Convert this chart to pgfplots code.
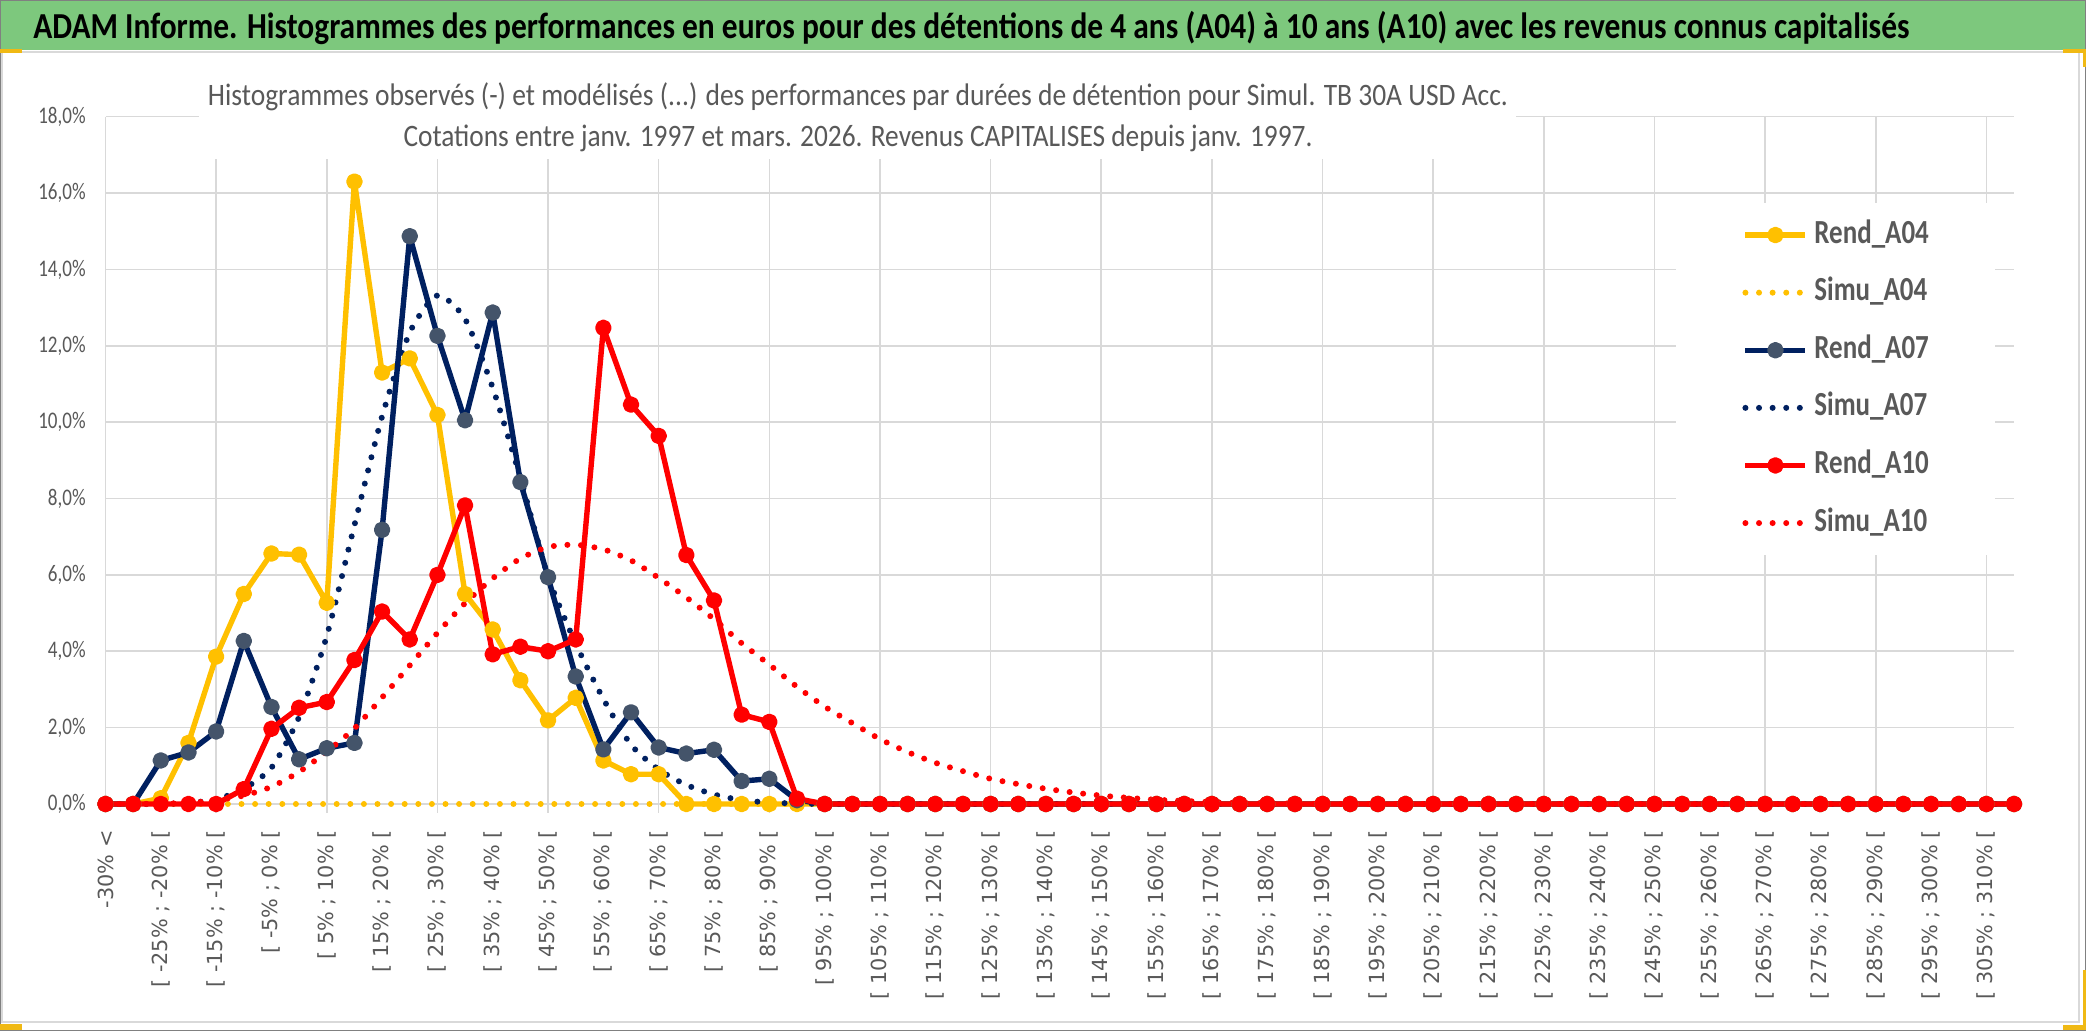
\documentclass[border=0pt]{standalone}
\usepackage{pgfplots}
\usepackage{pgfplotstable}
\usepackage{fontspec}
\pgfplotsset{compat=1.18}
\setmainfont{Carlito}
\newfontfamily\cond{Carlito}[FakeStretch=0.8]
\newfontfamily\dejavu{DejaVu Sans}

\definecolor{titlegreen}{RGB}{125,200,125}
\definecolor{gold}{RGB}{255,192,0}
\definecolor{navy}{RGB}{0,32,96}
\definecolor{slate}{RGB}{68,84,106}
\definecolor{gridgray}{RGB}{217,217,217}
\definecolor{txtgray}{RGB}{89,89,89}
\definecolor{framegray}{RGB}{128,128,128}
\definecolor{handle}{RGB}{240,185,20}

% idx: 0 = "-30% <", 1 = "[ -30% ; -25% [", 2 = "[ -25% ; -20% [", ...  (values in %)
\pgfplotstableread{
idx rA04  sA04 rA07  sA07  rA10  sA10
0   0     0    0     0     0     0
1   0     0    0     0     0     0
2   0.15  0    1.14  0     0     0.01
3   1.60  0    1.35  0.03  0     0.03
4   3.86  0    1.90  0.12  0     0.10
5   5.50  0    4.27  0.40  0.39  0.22
6   6.56  0    2.54  0.95  1.97  0.45
7   6.53  0    1.17  2.28  2.52  0.84
8   5.27  0    1.46  4.40  2.67  1.37
9   16.30 0    1.60  7.30  3.77  1.98
10  11.30 0    7.18  10.15 5.04  2.79
11  11.67 0    14.87 12.35 4.31  3.63
12  10.19 0    12.26 13.32 6.00  4.48
13  5.50  0    10.05 12.70 7.82  5.26
14  4.57  0    12.87 10.90 3.92  5.91
15  3.24  0    8.43  8.54  4.12  6.43
16  2.19  0    5.94  5.96  4.00  6.73
17  2.78  0    3.34  4.20  4.31  6.79
18  1.14  0    1.43  2.75  12.47 6.67
19  0.78  0    2.40  1.55  10.46 6.38
20  0.78  0    1.48  0.90  9.64  5.92
21  0     0    1.32  0.50  6.52  5.41
22  0     0    1.42  0.25  5.33  4.84
23  0     0    0.60  0.10  2.34  4.21
24  0     0    0.66  0.04  2.15  3.65
25  0     0    0.10  0.01  0.14  3.07
26  0     0    0     0     0     2.55
27  0     0    0     0     0     2.12
28  0     0    0     0     0     1.70
29  0     0    0     0     0     1.36
30  0     0    0     0     0     1.08
31  0     0    0     0     0     0.86
32  0     0    0     0     0     0.66
33  0     0    0     0     0     0.52
34  0     0    0     0     0     0.40
35  0     0    0     0     0     0.30
36  0     0    0     0     0     0.22
37  0     0    0     0     0     0.16
38  0     0    0     0     0     0.11
39  0     0    0     0     0     0.08
40  0     0    0     0     0     0.05
41  0     0    0     0     0     0.03
42  0     0    0     0     0     0.02
43  0     0    0     0     0     0.01
44  0     0    0     0     0     0
45  0     0    0     0     0     0
46  0     0    0     0     0     0
47  0     0    0     0     0     0
48  0     0    0     0     0     0
49  0     0    0     0     0     0
50  0     0    0     0     0     0
51  0     0    0     0     0     0
52  0     0    0     0     0     0
53  0     0    0     0     0     0
54  0     0    0     0     0     0
55  0     0    0     0     0     0
56  0     0    0     0     0     0
57  0     0    0     0     0     0
58  0     0    0     0     0     0
59  0     0    0     0     0     0
60  0     0    0     0     0     0
61  0     0    0     0     0     0
62  0     0    0     0     0     0
63  0     0    0     0     0     0
64  0     0    0     0     0     0
65  0     0    0     0     0     0
66  0     0    0     0     0     0
67  0     0    0     0     0     0
68  0     0    0     0     0     0
69  0     0    0     0     0     0
}\histo

\pgfplotsset{
  rend/.style={line width=2.7pt, line join=round, mark=*, mark size=2.8pt},
  simu/.style={line width=3pt, line cap=round, dash pattern=on 0pt off 6.8pt, smooth, tension=0.4},
}

\begin{document}
\begin{tikzpicture}
\path[use as bounding box] (0,0) rectangle (1043pt,515.5pt);
% frame and title bar
\fill[white] (0,0) rectangle (1043pt,515.5pt);
\fill[titlegreen] (0,490.5pt) rectangle (1043pt,515.5pt);
\draw[gridgray, line width=0.8pt] (0.9pt,4.5pt) rectangle (1039.5pt,489.5pt);
\draw[framegray, line width=0.6pt] (0.3pt,0.3pt) rectangle (1042.7pt,515.2pt);
\node[anchor=base west, inner sep=0pt] at (16.5pt,496pt)
  {\resizebox{938pt}{\height}{\cond\bfseries\fontsize{18.3pt}{20pt}\selectfont ADAM Informe. Histogrammes des performances en euros pour des détentions de 4 ans (A04) à 10 ans (A10) avec les revenus connus capitalisés}};

\begin{axis}[
  at={(52.75pt,113.5pt)}, anchor=south west,
  scale only axis, width=954.25pt, height=343.65pt,
  xmin=0, xmax=69, ymin=0, ymax=18,
  clip=false,
  axis line style={draw=none},
  xtick={0,2,...,68},
  minor xtick={0,4,...,68},
  xticklabels={{-30\% <},{[ -25\% ; -20\% [},{[ -15\% ; -10\% [},{[ -5\% ; 0\% [},
    {[ 5\% ; 10\% [},{[ 15\% ; 20\% [},{[ 25\% ; 30\% [},{[ 35\% ; 40\% [},
    {[ 45\% ; 50\% [},{[ 55\% ; 60\% [},{[ 65\% ; 70\% [},{[ 75\% ; 80\% [},
    {[ 85\% ; 90\% [},{[ 95\% ; 100\% [},{[ 105\% ; 110\% [},{[ 115\% ; 120\% [},
    {[ 125\% ; 130\% [},{[ 135\% ; 140\% [},{[ 145\% ; 150\% [},{[ 155\% ; 160\% [},
    {[ 165\% ; 170\% [},{[ 175\% ; 180\% [},{[ 185\% ; 190\% [},{[ 195\% ; 200\% [},
    {[ 205\% ; 210\% [},{[ 215\% ; 220\% [},{[ 225\% ; 230\% [},{[ 235\% ; 240\% [},
    {[ 245\% ; 250\% [},{[ 255\% ; 260\% [},{[ 265\% ; 270\% [},{[ 275\% ; 280\% [},
    {[ 285\% ; 290\% [},{[ 295\% ; 300\% [},{[ 305\% ; 310\% [}},
  ytick={0,2,...,18},
  yticklabels={{0,0\%},{2,0\%},{4,0\%},{6,0\%},{8,0\%},{10,0\%},{12,0\%},{14,0\%},{16,0\%},{18,0\%}},
  xmajorgrids=false, xminorgrids=true, ymajorgrids=true,
  grid style={gridgray, line width=0.8pt},
  minor grid style={gridgray, line width=0.8pt},
  major tick length=0pt, minor tick length=4.5pt,
  tick align=outside, tick pos=left,
  minor tick style={gridgray, line width=0.8pt},
  xticklabel style={rotate=90, anchor=east, inner sep=0pt, text=txtgray,
    font=\dejavu\fontsize{10.4pt}{12pt}\selectfont},
  xticklabel shift=13pt,
  yticklabel style={anchor=east, inner sep=0pt, text=txtgray,
    font=\cond\fontsize{11.9pt}{14pt}\selectfont},
  yticklabel shift=9.75pt,
  legend style={at={(0.8229,0.8744)}, anchor=north west, draw=none, fill=white,
    inner xsep=33pt, inner ysep=9pt, row sep=15.15pt, column sep=3pt,
    font=\cond\bfseries\fontsize{16.85pt}{18pt}\selectfont, text=txtgray,
    nodes={inner sep=0pt, text height=10.85pt, text depth=2.8pt}},
  legend cell align=left,
  legend image code/.code={\draw[#1, mark repeat=2, mark phase=2]
    plot coordinates {(0pt,0pt) (15pt,0pt) (30pt,0pt)};},
]
\addplot[rend, gold, mark options={fill=gold, draw=gold}] table[x=idx, y=rA04] {\histo};
\addlegendentry{Rend\_A04}
\addplot[simu, gold] table[x=idx, y=sA04] {\histo};
\addlegendentry{Simu\_A04}
\addplot[rend, navy, mark options={fill=slate, draw=slate}] table[x=idx, y=rA07] {\histo};
\addlegendentry{Rend\_A07}
\addplot[simu, navy] table[x=idx, y=sA07] {\histo};
\addlegendentry{Simu\_A07}
\addplot[rend, red, mark options={fill=red, draw=red}] table[x=idx, y=rA10] {\histo};
\addlegendentry{Rend\_A10}
\addplot[simu, red] table[x=idx, y=sA10] {\histo};
\addlegendentry{Simu\_A10}
\end{axis}

% chart title box over the gridlines
\fill[white] (99.5pt,436pt) rectangle (758pt,485.5pt);
\node[anchor=base, inner sep=0pt, text=txtgray] at (429pt,462.5pt)
  {\resizebox{650pt}{\height}{\cond\fontsize{15.6pt}{17pt}\selectfont Histogrammes observés (-) et modélisés (...) des performances par durées de détention pour Simul. TB 30A USD Acc.}};
\node[anchor=base, inner sep=0pt, text=txtgray] at (429pt,442.2pt)
  {\resizebox{454.5pt}{\height}{\cond\fontsize{15.6pt}{17pt}\selectfont Cotations entre janv. 1997 et mars. 2026. Revenus CAPITALISES depuis janv. 1997.}};

% selection handles
\fill[handle] (0,489pt) rectangle (11pt,491pt);
\fill[handle] (1031.5pt,489pt) rectangle (1043pt,491pt);
\fill[handle] (1041.5pt,482pt) rectangle (1043pt,491pt);
\fill[handle] (0,0.5pt) rectangle (11pt,3.5pt);
\fill[handle] (1041.5pt,0.5pt) rectangle (1043pt,30.5pt);
\fill[handle] (1031.5pt,0.5pt) rectangle (1043pt,3pt);
\end{tikzpicture}
\end{document}
